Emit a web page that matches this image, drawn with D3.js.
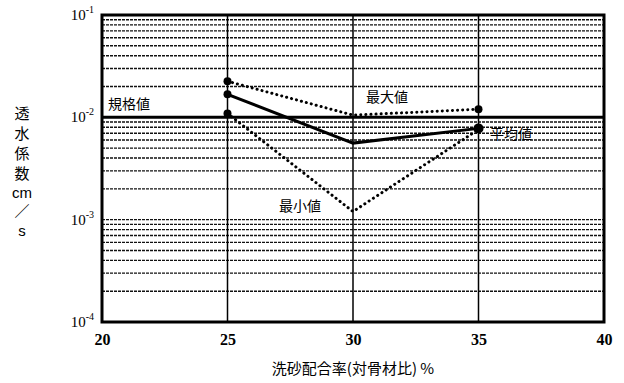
<!DOCTYPE html>
<html><head><meta charset="utf-8">
<script src="https://cdn.jsdelivr.net/npm/d3@7"></script>
<style>body{margin:0;background:#fff}svg{display:block}</style>
</head><body>
<script>
const xCategories = [25, 30, 35];
const maxValues = [0.0225, 0.0105, 0.0120];
const meanValues = [0.0168, 0.0056, 0.0078];
const minValues = [0.0109, 0.0012, 0.0076];
const standardValue = 0.01;
const xTicks = [20, 25, 30, 35, 40];
const yTickExps = [-1, -2, -3, -4];
const seriesLabels = ["最大値", "平均値", "最小値", "規格値"];
const xTitle = "洗砂配合率(対骨材比) %";
const yTitleChars = ["透", "水", "係", "数", "cm", "／", "s"];

const W = 624, H = 383;
const m = {l: 102, r: 20, t: 15, b: 61};
const svg = d3.select("body").append("svg").attr("width", W).attr("height", H);
const x = d3.scaleLinear().domain([20, 40]).range([m.l, W - m.r]);
const y = d3.scaleLog().domain([1e-4, 1e-1]).range([H - m.b, m.t]);
const serif = "'Liberation Serif','DejaVu Serif',serif";
const cjk = "'Noto Sans CJK JP','Noto Sans CJK SC',sans-serif";

// minor horizontal gridlines
const minors = [];
for (let e = -4; e < -1; e++) for (let k = 2; k <= 9; k++) minors.push(k * Math.pow(10, e));
minors.push(1e-3);
svg.append("g").selectAll("line").data(minors).join("line")
  .attr("x1", m.l).attr("x2", W - m.r)
  .attr("y1", d => y(d)).attr("y2", d => y(d))
  .attr("stroke", "#111").attr("stroke-width", 1.4).attr("stroke-dasharray", "3,1");
// vertical gridlines
svg.append("g").selectAll("line").data([25, 30, 35]).join("line")
  .attr("x1", d => x(d)).attr("x2", d => x(d))
  .attr("y1", m.t).attr("y2", H - m.b)
  .attr("stroke", "#000").attr("stroke-width", 1.5);
// standard line
svg.append("line").attr("x1", m.l).attr("x2", W - m.r)
  .attr("y1", y(standardValue)).attr("y2", y(standardValue))
  .attr("stroke", "#000").attr("stroke-width", 3);

// border
svg.append("rect").attr("x", m.l).attr("y", m.t)
  .attr("width", W - m.r - m.l).attr("height", H - m.b - m.t)
  .attr("fill", "none").attr("stroke", "#000").attr("stroke-width", 3);

// axes labels
const xAxis = d3.axisBottom(x).tickValues(xTicks).tickSize(0).tickPadding(12);
const gx = svg.append("g").attr("transform", `translate(0,${H - m.b})`).call(xAxis)
  .attr("font-family", serif).attr("font-size", 16);
gx.select(".domain").remove();
gx.selectAll("text").style("font-family", serif).style("font-weight", "bold").attr("fill", "#000");

const gy = svg.append("g");
gy.selectAll("text").data(yTickExps).join("text")
  .attr("x", m.l - 8).attr("y", d => y(Math.pow(10, d)) + 5)
  .attr("text-anchor", "end").style("font-family", serif).attr("font-size", 15).attr("fill", "#000")
  .each(function(d) {
    const t = d3.select(this);
    t.append("tspan").text("10");
    t.append("tspan").attr("dy", -7).attr("font-size", 10).text(String(d));
  });

// lines
const line = d3.line().x((d, i) => x(xCategories[i])).y(d => y(d));
svg.append("path").datum(maxValues).attr("d", line).attr("fill", "none")
  .attr("stroke", "#000").attr("stroke-width", 3).attr("stroke-dasharray", "0.1,5").attr("stroke-linecap", "round");
svg.append("path").datum(minValues).attr("d", line).attr("fill", "none")
  .attr("stroke", "#000").attr("stroke-width", 3).attr("stroke-dasharray", "0.1,5").attr("stroke-linecap", "round");
svg.append("path").datum(meanValues).attr("d", line).attr("fill", "none")
  .attr("stroke", "#000").attr("stroke-width", 3);

// markers
const pts = [
  [xCategories[0], maxValues[0], 4], [xCategories[0], meanValues[0], 4], [xCategories[0], minValues[0], 4],
  [xCategories[2], maxValues[2], 4], [xCategories[2], meanValues[2], 5]
];
svg.append("g").selectAll("circle").data(pts).join("circle")
  .attr("cx", d => x(d[0])).attr("cy", d => y(d[1])).attr("r", d => d[2]).attr("fill", "#000");

// text labels
const lab = svg.append("g").attr("font-family", cjk).attr("font-size", 14).attr("fill", "#000");
lab.append("text").attr("x", 366).attr("y", 102).text(seriesLabels[0]);
lab.append("text").attr("x", 490).attr("y", 139).text(seriesLabels[1]);
lab.append("text").attr("x", 279).attr("y", 211).text(seriesLabels[2]);
lab.append("text").attr("x", 108).attr("y", 109).text(seriesLabels[3]);

// x title
svg.append("text").attr("x", 353).attr("y", 374).attr("text-anchor", "middle")
  .attr("font-family", cjk).attr("font-size", 15).text(xTitle);

// y title (vertical)
const yT = svg.append("g").attr("font-size", 15).attr("text-anchor", "middle");
const yPos = [119, 139, 159, 179, 198, 217, 236];
yTitleChars.forEach((c, i) => {
  yT.append("text").attr("x", 22).attr("y", yPos[i])
    .attr("font-family", (c === "cm" || c === "s") ? "'Liberation Sans',sans-serif" : cjk)
    .text(c);
});
</script>
</body></html>
